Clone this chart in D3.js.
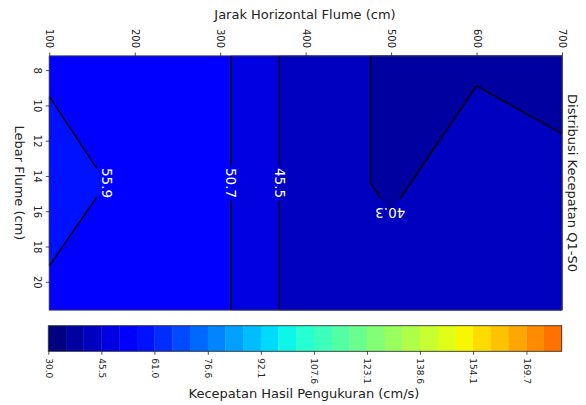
<!DOCTYPE html>
<html>
<head>
<meta charset="utf-8">
<script src="https://cdn.jsdelivr.net/npm/d3@7"></script>
<style>
  body { margin: 0; background: #fff; }
  svg text { font-family: "DejaVu Sans", sans-serif; fill: #222; }
</style>
</head>
<body>
<svg id="chart" width="586" height="405"></svg>
<script>
// ---- data ----
const xTicks = [100, 200, 300, 400, 500, 600, 700];
const yTicks = [8, 10, 12, 14, 16, 18, 20];
const xDomain = [100, 700];
const yDomain = [7.2, 21.6];

// level kontur (30 level, 29 pita warna)
const levels = [30.0, 35.2, 40.3, 45.5, 50.7, 55.9, 61.0, 66.2, 71.4, 76.6,
                81.7, 86.9, 92.1, 97.2, 102.4, 107.6, 112.8, 117.9, 123.1, 128.3,
                133.4, 138.6, 143.8, 149.0, 154.1, 159.3, 164.5, 169.7, 174.8, 180.0];
const cbTicks = [30.0, 45.5, 61.0, 76.6, 92.1, 107.6, 123.1, 138.6, 154.1, 169.7];

// garis kontur (x cm, y cm)
const garis559 = [[100, 9.5], [167, 14.4], [100, 19.1]];
const garis507 = [[312.6, 7.2], [312.6, 21.6]];
const garis455 = [[369.2, 7.2], [369.2, 21.6]];
const garis403 = [[476, 7.2], [476, 14.4], [499, 16.1], [600, 8.9], [700, 11.6]];

const labelNilai = ['55.9', '50.7', '45.5', '40.3'];
const labelPosisi = [[167, 14.4], [312.6, 14.4], [369.2, 14.4], [499, 16.1]];
const labelRotasi = [90, 90, 90, 180];

// ---- skala ----
const svg = d3.select('#chart');
const x = d3.scaleLinear().domain(xDomain).range([49.3, 562]);
const y = d3.scaleLinear().domain(yDomain).range([56, 310]);
const cb = d3.scaleLinear().domain([30, 180]).range([48.3, 561.7]);

// colormap jet (segmen matplotlib)
const jetR = d3.scaleLinear().domain([0, 0.35, 0.66, 0.89, 1]).range([0, 0, 1, 1, 0.5]).clamp(true);
const jetG = d3.scaleLinear().domain([0, 0.125, 0.375, 0.64, 0.91, 1]).range([0, 0, 1, 1, 0, 0]).clamp(true);
const jetB = d3.scaleLinear().domain([0, 0.11, 0.34, 0.65, 1]).range([0.5, 1, 1, 0, 0]).clamp(true);
const norm = d3.scaleLinear().domain([30, 213.4]).range([0, 1]);
function jet(v) {
  const t = norm(v);
  return d3.rgb(jetR(t) * 255, jetG(t) * 255, jetB(t) * 255).formatHex();
}

// ---- isi kontur ----
const line = d3.line().x(d => x(d[0])).y(d => y(d[1]));
const [x0, x1] = xDomain, [y0, y1] = yDomain;

const daerah = [
  {lv: levels[4], poly: [[x0, y0], [x1, y0], [x1, y1], [x0, y1]]},
  {lv: levels[5], poly: garis559},
  {lv: levels[3], poly: garis507.concat([[x1, y1], [x1, y0]])},
  {lv: levels[2], poly: garis455.concat([[x1, y1], [x1, y0]])},
  {lv: levels[1], poly: garis403.concat([[x1, y0]])}
];

svg.append('g').selectAll('path').data(daerah).enter().append('path')
  .attr('d', d => line(d.poly) + 'Z')
  .attr('fill', d => jet(d.lv))
  .attr('stroke', d => jet(d.lv))
  .attr('stroke-width', 0.5);

// potong garis di sekitar label (seperti clabel inline)
function potong(ptsData, pusatData, setengah) {
  const pts = ptsData.map(p => [x(p[0]), y(p[1])]);
  const c = [x(pusatData[0]), y(pusatData[1])];
  const s = [0];
  for (let i = 1; i < pts.length; i++) s.push(s[i - 1] + Math.hypot(pts[i][0] - pts[i - 1][0], pts[i][1] - pts[i - 1][1]));
  let best = {d: Infinity, s: 0};
  for (let i = 1; i < pts.length; i++) {
    const ax = pts[i - 1][0], ay = pts[i - 1][1], bx = pts[i][0], by = pts[i][1];
    const L2 = (bx - ax) ** 2 + (by - ay) ** 2;
    let t = ((c[0] - ax) * (bx - ax) + (c[1] - ay) * (by - ay)) / L2;
    t = Math.max(0, Math.min(1, t));
    const px = ax + t * (bx - ax), py = ay + t * (by - ay);
    const d = Math.hypot(px - c[0], py - c[1]);
    if (d < best.d) best = {d: d, s: s[i - 1] + t * Math.sqrt(L2)};
  }
  function titik(a) {
    for (let i = 1; i < pts.length; i++) {
      if (a <= s[i]) {
        const t = (a - s[i - 1]) / (s[i] - s[i - 1]);
        return [pts[i - 1][0] + t * (pts[i][0] - pts[i - 1][0]), pts[i - 1][1] + t * (pts[i][1] - pts[i - 1][1])];
      }
    }
    return pts[pts.length - 1];
  }
  function bagian(a, b) {
    const out = [titik(a)];
    for (let i = 0; i < pts.length; i++) if (s[i] > a && s[i] < b) out.push(pts[i]);
    out.push(titik(b));
    return out;
  }
  const total = s[s.length - 1];
  const hasil = [];
  if (best.s - setengah > 0) hasil.push(bagian(0, best.s - setengah));
  if (best.s + setengah < total) hasil.push(bagian(best.s + setengah, total));
  return hasil;
}

const semuaGaris = [garis559, garis507, garis455, garis403];
const potongan = [];
semuaGaris.forEach((g, i) => potong(g, labelPosisi[i], 17.5).forEach(p => potongan.push(p)));

svg.append('g').selectAll('path').data(potongan).enter().append('path')
  .attr('d', d3.line())
  .attr('fill', 'none')
  .attr('stroke', '#000')
  .attr('stroke-width', 1.4);

svg.append('g').selectAll('text').data(labelNilai).enter().append('text')
  .attr('transform', (d, i) => `translate(${x(labelPosisi[i][0])},${y(labelPosisi[i][1])}) rotate(${labelRotasi[i]})`)
  .attr('text-anchor', 'middle')
  .attr('dy', '0.35em')
  .style('fill', '#fff')
  .style('font-size', '13.5px')
  .text(d => d);

// ---- sumbu ----
svg.append('rect')
  .attr('x', x(x0)).attr('y', y(y0))
  .attr('width', x(x1) - x(x0)).attr('height', y(y1) - y(y0))
  .attr('fill', 'none').attr('stroke', '#333').attr('stroke-width', 0.9);

function gayaSumbu(g) {
  g.select('.domain').remove();
  g.selectAll('.tick line').attr('stroke', '#222').attr('stroke-width', 0.8);
  g.selectAll('text').attr('x', 0).attr('y', 0).attr('dy', '0.35em');
}

const axX = svg.append('g').attr('transform', `translate(0,${y(y0)})`)
  .call(d3.axisTop(x).tickValues(xTicks).tickSize(3.5).tickFormat(d3.format('d')));
gayaSumbu(axX);
axX.selectAll('text').attr('text-anchor', 'end').attr('transform', 'translate(0,-8) rotate(90)').style('font-size', '10px');

const axY = svg.append('g').attr('transform', `translate(${x(x0)},0)`)
  .call(d3.axisLeft(y).tickValues(yTicks).tickSize(3.5));
gayaSumbu(axY);
axY.selectAll('text').attr('text-anchor', 'middle').attr('transform', 'translate(-12,0) rotate(90)').style('font-size', '10px');

svg.append('text').attr('x', 305).attr('y', 14).attr('dy', '0.35em')
  .attr('text-anchor', 'middle').style('font-size', '13px')
  .text('Jarak Horizontal Flume (cm)');

svg.append('text').attr('transform', 'translate(20,183) rotate(90)').attr('dy', '0.35em')
  .attr('text-anchor', 'middle').style('font-size', '13px')
  .text('Lebar Flume (cm)');

svg.append('text').attr('transform', 'translate(572.5,183) rotate(90)').attr('dy', '0.35em')
  .attr('text-anchor', 'middle').style('font-size', '13px')
  .text('Distribusi Kecepatan Q1-S0');

// ---- colorbar ----
const cbTop = 325.7, cbBot = 351.3;
const pita = levels.slice(0, -1);
svg.append('g').selectAll('rect').data(pita).enter().append('rect')
  .attr('x', (d, i) => cb(d))
  .attr('y', cbTop)
  .attr('width', (d, i) => cb(levels[i + 1]) - cb(d) + 0.3)
  .attr('height', cbBot - cbTop)
  .attr('fill', d => jet(d));

svg.append('rect')
  .attr('x', cb(30)).attr('y', cbTop)
  .attr('width', cb(180) - cb(30)).attr('height', cbBot - cbTop)
  .attr('fill', 'none').attr('stroke', '#333').attr('stroke-width', 0.9);

const axCb = svg.append('g').attr('transform', `translate(0,${cbBot})`)
  .call(d3.axisBottom(cb).tickValues(cbTicks).tickSize(3.5).tickFormat(d3.format('.1f')));
gayaSumbu(axCb);
axCb.selectAll('text').attr('text-anchor', 'start').attr('transform', 'translate(0,7) rotate(90)').style('font-size', '9px');

svg.append('text').attr('x', 304).attr('y', 393).attr('dy', '0.35em')
  .attr('text-anchor', 'middle').style('font-size', '13px')
  .text('Kecepatan Hasil Pengukuran (cm/s)');
</script>
</body>
</html>
